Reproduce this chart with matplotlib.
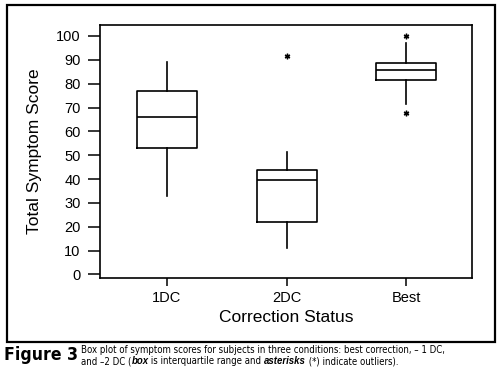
import matplotlib
matplotlib.use("Agg")
import matplotlib.pyplot as plt
from matplotlib.patches import Rectangle
from matplotlib import font_manager

W, H = 500, 388

# values
categories = ["1DC", "2DC", "Best"]
whisker_low = [33, 11, 71.5]
q1 = [53, 22, 81.7]
median = [66, 39.7, 85.8]
q3 = [77, 43.7, 88.5]
whisker_high = [89, 51.5, 97]
outliers = [[], [91.7], [100, 67.5]]
yticks = list(range(0, 101, 10))

plt.rcParams['font.family'] = ['Liberation Sans', 'DejaVu Sans']

fig = plt.figure(figsize=(W / 100, H / 100), dpi=100)


def px(x, y):
    # pixel position (from top left) -> figure fraction
    return x / W, 1 - y / H


l, b = px(100, 278)
r, t = px(472, 25)
ax = fig.add_axes([l, b, r - l, t - b])

stats = []
for i, name in enumerate(categories):
    stats.append({
        "label": name,
        "whislo": whisker_low[i],
        "q1": q1[i],
        "med": median[i],
        "q3": q3[i],
        "whishi": whisker_high[i],
        "fliers": outliers[i],
    })

ax.bxp(stats, positions=[1, 2, 3], widths=0.5, showcaps=False,
       boxprops=dict(color="black", linewidth=1.2),
       medianprops=dict(color="black", linewidth=1.2),
       whiskerprops=dict(color="black", linewidth=1.2),
       flierprops=dict(marker=(6, 2, 0), markersize=4, markeredgecolor="black",
                       markeredgewidth=1.0, linestyle="none"))

ax.set_xlim(0.44, 3.55)
ax.set_ylim(-1.5, 104.6)
ax.set_yticks(yticks)
ax.set_xticks([1, 2, 3])
ax.set_xticklabels(categories)
ax.tick_params(axis="y", length=9, width=1.1, labelsize=10.5, pad=5)
ax.tick_params(axis="x", length=6, width=1.1, labelsize=10.5, pad=3)
for s in ax.spines.values():
    s.set_linewidth(1.2)

ax.set_ylabel("Total Symptom Score", fontsize=12.5, labelpad=10)
ax.set_xlabel("Correction Status", fontsize=12.5, labelpad=4)

# outer frame around the chart
fx0, fy0 = px(7, 342)
fx1, fy1 = px(495, 5)
fig.patches.append(Rectangle((fx0, fy0), fx1 - fx0, fy1 - fy0, transform=fig.transFigure,
                             fill=False, edgecolor="black", linewidth=1.6))


# look for a narrow font for the caption, if there is one
def find_font(bold):
    for f in font_manager.fontManager.ttflist:
        narrow = "Narrow" in f.name or f.stretch in ("condensed", "semi-condensed", "extra-condensed")
        is_bold = f.weight in ("bold", 700, "semibold", 600)
        if narrow and (is_bold == bold) and f.style == "normal":
            return f.fname
    return None


def props(bold=False, italic=False):
    fname = find_font(bold) if not italic else None
    if fname:
        return font_manager.FontProperties(fname=fname)
    return font_manager.FontProperties(family="Liberation Sans",
                                       weight="bold" if bold else "normal",
                                       style="italic" if italic else "normal")


fig.canvas.draw()
renderer = fig.canvas.get_renderer()


def fitted(txt, prop, width):
    # font size so that txt spans width pixels
    prop = prop.copy()
    prop.set_size(10)
    tt = fig.text(0, 0, txt, fontproperties=prop)
    w = tt.get_window_extent(renderer).width
    tt.remove()
    return 10 * width / w


# caption
fp = props(bold=True)
fp.set_size(min(fitted("Figure 3", fp, 73), 17))
x, y = px(4, 355)
fig.text(x, y, "Figure 3", fontproperties=fp, va="center", ha="left")

line1 = "Box plot of symptom scores for subjects in three conditions: best correction, \u2013 1 DC,"
line2 = [("and \u20132 DC (", False), ("box", True),
         (" is interquartile range and ", False), ("asterisks", True),
         (" (*) indicate outliers).", False)]
size = fitted(line1, props(), 367)


def put_line(parts, x0, y0):
    xx = x0
    for txt, bi in parts:
        p = props(bold=bi, italic=bi)
        p.set_size(size)
        tt = fig.text(xx / W, 1 - y0 / H, txt, fontproperties=p, va="center", ha="left")
        xx += tt.get_window_extent(renderer).width


put_line([(line1, False)], 81, 350)
put_line(line2, 81, 361)

fig.savefig("out.png", dpi=100)
